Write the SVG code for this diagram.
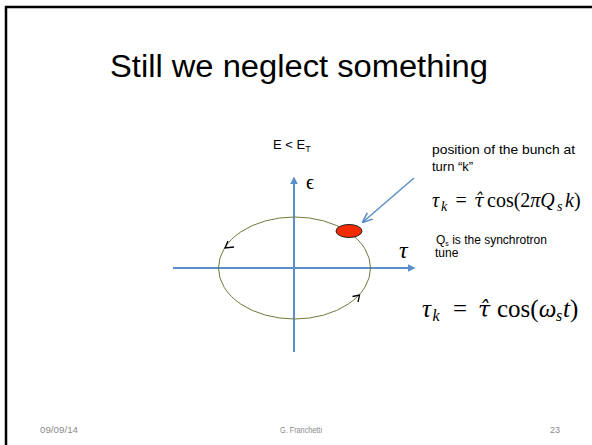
<svg xmlns="http://www.w3.org/2000/svg" width="592" height="445" viewBox="0 0 592 445">
<defs>
<style>
.sans{font-family:"Liberation Sans","Open Sans",Arial,sans-serif;fill:#000}
.math{font-family:"Liberation Serif","DejaVu Serif",serif;fill:#000}
.hat{font-family:"DejaVu Serif",serif;font-style:italic}
.it{font-style:italic}
.foot{font-family:"Liberation Sans",Arial,sans-serif;font-size:9px;fill:#8a8a8a}
.axis{stroke:#5b8fc9;stroke-width:2;fill:none}
.f1{font-size:20px}
.f2{font-size:25px}
</style>
<marker id="ah" viewBox="0 0 10 10" refX="8" refY="5" markerWidth="4" markerHeight="4" orient="auto" markerUnits="strokeWidth">
<path d="M0,0 L10,5 L0,10 z" fill="#5b8fc9"/>
</marker>
<marker id="ah2" viewBox="0 0 10 10" refX="9" refY="5" markerWidth="7" markerHeight="7" orient="auto" markerUnits="strokeWidth">
<path d="M0,1 L10,5 L0,9" fill="none" stroke="#5b8fc9" stroke-width="1.5"/>
</marker>
</defs>
<rect width="592" height="445" fill="#fff"/>
<path d="M6,445 V7 H592" fill="none" stroke="#000" stroke-width="2.5"/>
<g id="title"><text class="sans" x="299" y="77" font-size="31" text-anchor="middle" textLength="378" lengthAdjust="spacingAndGlyphs">Still we neglect something</text></g>
<g id="connectors">
<line class="axis" x1="173" y1="268" x2="414" y2="268" marker-end="url(#ah)"/>
<line class="axis" x1="294" y1="352" x2="294" y2="178" marker-end="url(#ah)"/>
<line x1="414" y1="178" x2="363" y2="222" stroke="#5b8fc9" stroke-width="1.5" marker-end="url(#ah2)"/>
</g>
<g id="orbit">
<ellipse cx="294.5" cy="268" rx="76" ry="51" fill="none" stroke="#6e7a3c" stroke-width="1"/>
<path d="M228,241 L225,248 L234,247" fill="none" stroke="#000" stroke-width="1.3"/>
<path d="M352.5,296.5 L359.5,295 L358,302" fill="none" stroke="#000" stroke-width="1.3"/>
</g>
<g id="bunch"><ellipse cx="349" cy="231" rx="13" ry="6.5" fill="#f42a00" stroke="#222" stroke-width="1"/></g>
<g id="labels">
<text class="sans" x="273" y="149" font-size="13">E &lt; E<tspan font-size="9" dy="3">T</tspan></text>
<text class="math" x="306" y="189" font-size="20" font-family="DejaVu Serif">ϵ</text>
<text class="math it" x="399" y="258" font-size="24">τ</text>
</g>
<g id="notes">
<text class="sans" x="432" y="154" font-size="13" textLength="143" lengthAdjust="spacingAndGlyphs">position of the bunch at</text>
<text class="sans" x="432" y="171" font-size="13">turn “k”</text>
<g id="formula1" class="math f1">
<text class="it" x="432" y="207">τ</text>
<text class="it" x="441" y="211" font-size="14">k</text>
<text x="455.5" y="207">=</text>
<text class="hat" x="474" y="207" font-size="18">τ̂</text>
<text x="487" y="207">cos(2<tspan class="it">πQ</tspan></text>
<text class="it" x="557" y="211" font-size="14">s</text>
<text x="565" y="207"><tspan class="it">k</tspan>)</text>
</g>
<text class="sans" x="436" y="244" font-size="12">Q<tspan font-size="7" dy="2">s</tspan><tspan dy="-2"> is the synchrotron</tspan></text>
<text class="sans" x="435" y="257" font-size="12">tune</text>
<g id="formula2" class="math f2">
<text class="it" x="422" y="317">τ</text>
<text class="it" x="432.5" y="321" font-size="16">k</text>
<text x="453" y="317">=</text>
<text class="hat" x="478" y="317" font-size="22">τ̂</text>
<text x="497" y="317">cos(<tspan class="it">ω</tspan></text>
<text class="it" x="556" y="321" font-size="16">s</text>
<text x="563" y="317"><tspan class="it">t</tspan>)</text>
</g>
</g>
<g id="footer">
<text class="foot" x="40" y="433" textLength="38" lengthAdjust="spacingAndGlyphs">09/09/14</text>
<text class="foot" x="280" y="433" textLength="42" lengthAdjust="spacingAndGlyphs">G. Franchetti</text>
<text class="foot" x="560" y="433" text-anchor="end">23</text>
</g>
</svg>
